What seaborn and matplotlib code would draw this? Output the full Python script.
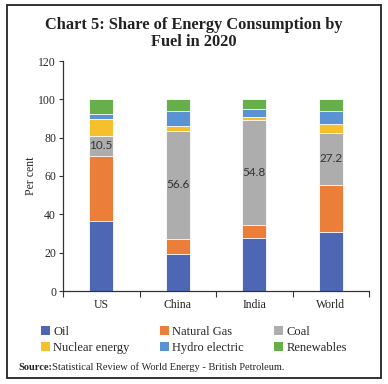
import numpy as np
import pandas as pd
import matplotlib
matplotlib.use("Agg")
import matplotlib.pyplot as plt
from matplotlib.patches import Patch, Rectangle
import seaborn as sns

regions = ["US", "China", "India", "World"]
fuels = ["Oil", "Natural Gas", "Coal", "Nuclear energy", "Hydro electric", "Renewables"]
oil = [36.5, 19.5, 27.8, 30.8]
natural_gas = [34.1, 7.6, 6.8, 24.5]
coal = [10.5, 56.6, 54.8, 27.2]
nuclear = [8.6, 2.3, 1.2, 4.6]
hydro = [2.9, 8.0, 4.5, 6.9]
renewables = [7.4, 6.0, 4.9, 6.0]
coal_labels = ["10.5", "56.6", "54.8", "27.2"]
yticks = [0, 20, 40, 60, 80, 100, 120]

colors = ["#4E67B5", "#EB7F3A", "#ADADAD", "#F6C02C", "#5B92D3", "#66AF4A"]

series = [oil, natural_gas, coal, nuclear, hydro, renewables]
cum = np.cumsum(np.array(series), axis=0)

sns.set_theme(style="ticks")
serif = ["Liberation Serif", "DejaVu Serif"]
plt.rcParams["font.family"] = serif

fig = plt.figure(figsize=(3.88, 3.84), dpi=100)
ax = fig.add_axes([63/388, 1-291/384, (369-63)/388, (291-61)/384])

for i in range(len(fuels)-1, -1, -1):
    df = pd.DataFrame({"region": regions, "value": cum[i]})
    sns.barplot(data=df, x="region", y="value", color=colors[i], width=0.31,
                saturation=1, edgecolor="white", linewidth=0.6, ax=ax)

bottoms = cum[1]
for j, lab in enumerate(coal_labels):
    mid = bottoms[j] + coal[j] / 2
    ax.text(j, mid, lab, ha="center", va="center", fontsize=8.5,
            family=["Lato", "DejaVu Sans"], color="#333333")

ax.set_xlim(-0.5, 3.5)
ax.set_ylim(0, 120)
ax.set_yticks(yticks)
ax.set_yticklabels([str(v) for v in yticks], fontsize=8.5)
ax.set_xticks([0, 1, 2, 3])
ax.set_xticklabels(regions, fontsize=8.5)
ax.set_xticks([-0.5, 0.5, 1.5, 2.5, 3.5], minor=True)
ax.tick_params(axis="x", which="major", length=0, pad=6)
ax.tick_params(axis="x", which="minor", length=4, width=0.8, color="#333333")
ax.tick_params(axis="y", length=3, width=0.8, color="#333333", pad=2)
ax.set_xlabel("")
ax.set_ylabel("Per cent", fontsize=8.5, labelpad=1)
sns.despine(ax=ax)
for s in ["left", "bottom"]:
    ax.spines[s].set_color("#333333")
    ax.spines[s].set_linewidth(0.9)

fig.text(0.5, 1-25/384, "Chart 5: Share of Energy Consumption by", ha="center", va="center",
         fontsize=11.8, fontweight="bold", color="#222222")
fig.text(0.5, 1-42/384, "Fuel in 2020", ha="center", va="center",
         fontsize=11.8, fontweight="bold", color="#222222")

order = [0, 3, 1, 4, 2, 5]
handles = [Patch(facecolor=colors[k], edgecolor="none", label=fuels[k]) for k in order]
fig.legend(handles=handles, ncol=3, loc="center", bbox_to_anchor=(0.5, 1-340/384),
           frameon=False, fontsize=9, handlelength=0.7, handleheight=0.7,
           handletextpad=0.3, columnspacing=2.4, labelspacing=0.35)

fig.text(18/388, 1-367/384, "Source:", fontsize=7.5, fontweight="bold", va="center", ha="left")
fig.text(52/388, 1-367/384, "Statistical Review of World Energy - British Petroleum.",
         fontsize=7.5, va="center", ha="left")

fig.add_artist(Rectangle((7/388, 1-378/384), (381-7)/388, (378-5)/384,
                         transform=fig.transFigure, fill=False, edgecolor="#222222", linewidth=1.3))

fig.savefig("out.png", dpi=100)
